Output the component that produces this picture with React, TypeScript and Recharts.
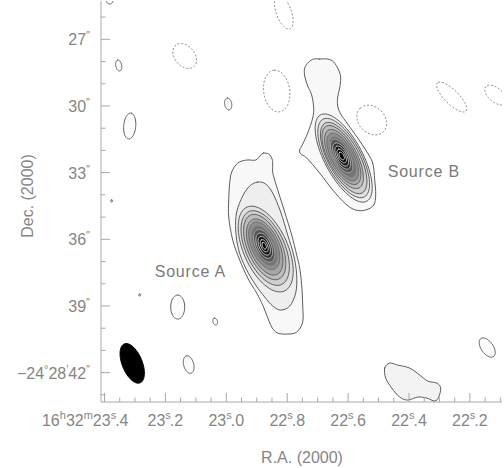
import { ScatterChart, Scatter, XAxis, YAxis } from 'recharts'

// R.A. in seconds after 16h32m, Dec. in arcsec after -24°28'
const RA_LABELS = [23.4, 23.2, 23.0, 22.8, 22.6, 22.4, 22.2]
const DEC_LABELS = [27, 30, 33, 36, 39, 42]

// hand traced irregular contours, [ra, dec]
const SOURCE_A_OUTER: [number, number][] = [
  [22.8772, 32.117], [22.8608, 32.162], [22.8509, 32.342], [22.8476, 32.567], [22.8476, 32.972],
  [22.8411, 33.332], [22.8279, 33.917], [22.8082, 34.772], [22.7852, 35.807], [22.7688, 36.707],
  [22.759, 37.293], [22.7524, 38.058], [22.7491, 38.958], [22.7491, 39.723], [22.7688, 40.173],
  [22.7984, 40.263], [22.8312, 40.218], [22.8509, 39.948], [22.8673, 39.408], [22.8805, 38.958],
  [22.9002, 38.418], [22.9297, 37.743], [22.956, 36.932], [22.979, 36.032], [22.9921, 34.997],
  [22.9921, 34.232], [22.9888, 33.467], [22.9823, 32.972], [22.9626, 32.567], [22.933, 32.432],
  [22.9035, 32.432], [22.887, 32.207],
]
const SOURCE_A_SECOND: [number, number][] = [
  [22.8969, 33.422], [22.8706, 33.512], [22.8476, 33.917], [22.8213, 34.772], [22.7984, 35.807],
  [22.7787, 36.707], [22.7688, 37.608], [22.7721, 38.418], [22.7918, 39.003], [22.8213, 39.183],
  [22.8476, 39.003], [22.8739, 38.598], [22.9035, 38.058], [22.9363, 37.293], [22.9593, 36.482],
  [22.9691, 35.582], [22.9659, 34.772], [22.9462, 34.052], [22.9232, 33.602],
]
const SOURCE_B_OUTER: [number, number][] = [
  [22.6933, 27.887], [22.667, 27.887], [22.6473, 28.022], [22.6309, 28.382], [22.6243, 28.742],
  [22.6276, 29.192], [22.6342, 29.597], [22.6342, 30.002], [22.6243, 30.362], [22.6013, 30.812],
  [22.5685, 31.442], [22.5422, 31.982], [22.5192, 32.567], [22.5126, 33.332], [22.5093, 34.007],
  [22.5159, 34.457], [22.5422, 34.682], [22.5751, 34.682], [22.6079, 34.412], [22.6506, 33.782],
  [22.6933, 33.017], [22.736, 32.342], [22.7557, 32.162], [22.759, 31.982], [22.7491, 31.712],
  [22.7327, 31.217], [22.7163, 30.542], [22.713, 30.092], [22.7196, 29.507], [22.7327, 29.102],
  [22.7425, 28.652], [22.7425, 28.292], [22.7294, 28.022], [22.713, 27.887],
]
const SE_BLOB: [number, number][] = [
  [22.4798, 41.793], [22.4634, 41.568], [22.4371, 41.658], [22.3977, 41.793], [22.3649, 42.108],
  [22.3386, 42.378], [22.309, 42.468], [22.2959, 42.693], [22.3025, 43.098], [22.3156, 43.278],
  [22.3419, 43.143], [22.3715, 43.098], [22.4043, 43.233], [22.4305, 43.098], [22.4568, 42.693],
  [22.4765, 42.243],
]

// nested elliptical contours: centre, semi-axes (arcsec)
const SOURCE_A_PA = 24
const SOURCE_A_RINGS = [
  { ra: 22.8706, dec: 36.438, a: 2.067, b: 0.989 },
  { ra: 22.8723, dec: 36.393, a: 1.798, b: 0.876 },
  { ra: 22.8739, dec: 36.348, a: 1.573, b: 0.764 },
  { ra: 22.8739, dec: 36.348, a: 1.348, b: 0.665 },
  { ra: 22.8755, dec: 36.29, a: 1.146, b: 0.566 },
  { ra: 22.8755, dec: 36.29, a: 0.966, b: 0.476 },
  { ra: 22.8755, dec: 36.29, a: 0.787, b: 0.387 },
  { ra: 22.8755, dec: 36.29, a: 0.607, b: 0.306 },
  { ra: 22.8755, dec: 36.29, a: 0.449, b: 0.225 },
  { ra: 22.8755, dec: 36.29, a: 0.292, b: 0.148 },
  { ra: 22.8755, dec: 36.29, a: 0.157, b: 0.081 },
]
const SOURCE_B_PA = 28
const SOURCE_B_RINGS = [
  { ra: 22.6145, dec: 32.342, a: 2.202, b: 0.854 },
  { ra: 22.6145, dec: 32.342, a: 1.978, b: 0.787 },
  { ra: 22.6145, dec: 32.342, a: 1.775, b: 0.71 },
  { ra: 22.6178, dec: 32.297, a: 1.573, b: 0.638 },
  { ra: 22.6178, dec: 32.297, a: 1.371, b: 0.566 },
  { ra: 22.6178, dec: 32.297, a: 1.191, b: 0.494 },
  { ra: 22.6178, dec: 32.297, a: 1.011, b: 0.427 },
  { ra: 22.6211, dec: 32.252, a: 0.831, b: 0.36 },
  { ra: 22.6211, dec: 32.252, a: 0.652, b: 0.292 },
  { ra: 22.6211, dec: 32.252, a: 0.494, b: 0.225 },
  { ra: 22.6211, dec: 32.252, a: 0.337, b: 0.157 },
  { ra: 22.6211, dec: 32.252, a: 0.189, b: 0.094 },
]

// small isolated contours
const POS_BLOBS = [
  { ra: 23.3534, dec: 28.179, a: 0.247, b: 0.135, pa: 10 },
  { ra: 22.9938, dec: 29.912, a: 0.27, b: 0.157, pa: 10 },
  { ra: 23.3172, dec: 30.902, a: 0.584, b: 0.27, pa: -5 },
  { ra: 23.1596, dec: 39.048, a: 0.539, b: 0.315, pa: 0 },
  { ra: 23.0365, dec: 39.7, a: 0.157, b: 0.103, pa: 15 },
  { ra: 23.1235, dec: 41.636, a: 0.404, b: 0.225, pa: 15 },
  { ra: 22.1432, dec: 40.871, a: 0.494, b: 0.27, pa: 35 },
  { ra: 23.3829, dec: 25.231, a: 0.18, b: 0.157, pa: 0 },
  { ra: 23.3764, dec: 34.277, a: 0.05, b: 0.04, pa: 0 },
  { ra: 23.2844, dec: 38.508, a: 0.05, b: 0.04, pa: 0 },
]
const NEG_BLOBS = [
  { ra: 22.8115, dec: 25.771, a: 0.809, b: 0.337, pa: 20 },
  { ra: 23.1366, dec: 27.752, a: 0.629, b: 0.449, pa: 40 },
  { ra: 22.8345, dec: 29.327, a: 0.944, b: 0.584, pa: 8 },
  { ra: 22.5225, dec: 30.632, a: 0.742, b: 0.584, pa: 45 },
  { ra: 22.2598, dec: 29.597, a: 0.899, b: 0.315, pa: 45 },
  { ra: 22.1153, dec: 29.507, a: 0.584, b: 0.315, pa: 50 },
]
const BEAM = { ra: 23.309, dec: 41.582, a: 0.944, b: 0.449, pa: 22 }

const SOURCE_LABELS = [
  { ra: 23.2351, dec: 37.698, text: 'Source A' },
  { ra: 22.47, dec: 33.197, text: 'Source B' },
]

const FONT = '"Liberation Sans", Arial, Helvetica, sans-serif'
const TEXT = '#858585'
const AXIS = '#a8a8a8'
const LEVEL_FILL = ['#f8f8f8', '#eeeeee', '#e0e0e0', '#cfcfcf', '#bcbcbc', '#a6a6a6', '#8e8e8e', '#747474', '#565656', '#343434', '#151515', '#000000', '#000000']
const LEVEL_STROKE = ['#5c5c5c', '#5c5c5c', '#5c5c5c', '#5c5c5c', '#5e5e5e', '#646464', '#6e6e6e', '#8a8a8a', '#a4a4a4', '#b8b8b8', '#d0d0d0', '#e6e6e6', '#f4f4f4']

const COS_DEC = Math.cos((24.475 * Math.PI) / 180)
const RA_TICKS: number[] = []
for (let i = 0; i <= 26; i++) RA_TICKS.push(+(23.4 - i * 0.05).toFixed(2))
const DEC_TICKS: number[] = []
for (let d = 26; d <= 43; d++) DEC_TICKS.push(d)

type Ell = { ra: number; dec: number; a: number; b: number; pa: number }

// outline of an elliptical contour, in ra/dec
function ellipsePts(e: Ell) {
  const pa = (e.pa * Math.PI) / 180
  const pts = []
  for (let i = 0; i < 72; i++) {
    const t = (i / 72) * 2 * Math.PI
    const u = e.a * Math.cos(t)
    const v = e.b * Math.sin(t)
    const north = u * Math.cos(pa) - v * Math.sin(pa)
    const east = u * Math.sin(pa) + v * Math.cos(pa)
    pts.push({ ra: e.ra + east / (15 * COS_DEC), dec: e.dec - north })
  }
  return pts
}

const toPts = (arr: [number, number][]) => arr.map(([ra, dec]) => ({ ra, dec }))

function closedPath(pts: { x: number; y: number }[], smooth?: boolean) {
  if (!pts || !pts.length) return ''
  const n = pts.length
  if (!smooth) return 'M' + pts.map((p) => `${p.x},${p.y}`).join('L') + 'Z'
  let d = `M${pts[0].x},${pts[0].y}`
  for (let i = 0; i < n; i++) {
    const p0 = pts[(i - 1 + n) % n]
    const p1 = pts[i]
    const p2 = pts[(i + 1) % n]
    const p3 = pts[(i + 2) % n]
    d += `C${p1.x + (p2.x - p0.x) / 6},${p1.y + (p2.y - p0.y) / 6} ${p2.x - (p3.x - p1.x) / 6},${p2.y - (p3.y - p1.y) / 6} ${p2.x},${p2.y}`
  }
  return d + 'Z'
}

type Contour = { key: string; pts: { ra: number; dec: number }[]; fill: string; stroke: string; dash?: string; smooth?: boolean }

const contours: Contour[] = [
  ...NEG_BLOBS.map((e, i) => ({ key: `neg${i}`, pts: ellipsePts(e), fill: 'none', stroke: '#8a8a8a', dash: '1.2 2.6' })),
  ...POS_BLOBS.map((e, i) => ({ key: `pos${i}`, pts: ellipsePts(e), fill: '#fcfcfc', stroke: LEVEL_STROKE[0] })),
  { key: 'blob', pts: toPts(SE_BLOB), fill: '#f3f3f3', stroke: LEVEL_STROKE[0], smooth: true },
  { key: 'aOuter', pts: toPts(SOURCE_A_OUTER), fill: LEVEL_FILL[0], stroke: LEVEL_STROKE[0], smooth: true },
  { key: 'aSecond', pts: toPts(SOURCE_A_SECOND), fill: LEVEL_FILL[1], stroke: LEVEL_STROKE[1], smooth: true },
  ...SOURCE_A_RINGS.map((r, i) => ({ key: `a${i}`, pts: ellipsePts({ ...r, pa: SOURCE_A_PA }), fill: LEVEL_FILL[i + 2], stroke: LEVEL_STROKE[i + 2] })),
  { key: 'bOuter', pts: toPts(SOURCE_B_OUTER), fill: LEVEL_FILL[0], stroke: LEVEL_STROKE[0], smooth: true },
  ...SOURCE_B_RINGS.map((r, i) => ({ key: `b${i}`, pts: ellipsePts({ ...r, pa: SOURCE_B_PA }), fill: LEVEL_FILL[i + 1], stroke: LEVEL_STROKE[i + 1] })),
  { key: 'beam', pts: ellipsePts(BEAM), fill: '#000', stroke: '#000' },
]

const isRaLabel = (v: number) => RA_LABELS.some((m) => Math.abs(m - v) < 1e-6)

function RaLabel({ x, y, v }: { x: number; y: number; v: number }) {
  const [s, frac] = v.toFixed(1).split('.')
  const sup = { fontSize: 11 }
  if (Math.abs(v - RA_LABELS[0]) < 1e-6) {
    return (
      <text x={x + 24} y={y} textAnchor="end" fill={TEXT} fontSize={16} fontFamily={FONT}>
        <tspan>16</tspan>
        <tspan dy={-7} {...sup}>h</tspan>
        <tspan dy={7}>32</tspan>
        <tspan dy={-7} {...sup}>m</tspan>
        <tspan dy={7}>{s}</tspan>
        <tspan dy={-7} {...sup}>s</tspan>
        <tspan dy={7} dx={-1}>.{frac}</tspan>
      </text>
    )
  }
  return (
    <text x={x} y={y} textAnchor="middle" fill={TEXT} fontSize={16} fontFamily={FONT}>
      <tspan>{s}</tspan>
      <tspan dy={-7} {...sup}>s</tspan>
      <tspan dy={7} dx={-1}>.{frac}</tspan>
    </text>
  )
}

function BottomTick(props: any) {
  const { x, y, payload } = props
  const major = isRaLabel(payload.value)
  return (
    <g>
      <line x1={x} x2={x} y1={y} y2={y - (major ? 9 : 4.5)} stroke={AXIS} />
      {major && <RaLabel x={x} y={y + 24} v={payload.value} />}
    </g>
  )
}

function TopTick(props: any) {
  const { x, y, payload } = props
  const major = isRaLabel(payload.value)
  return <line x1={x} x2={x} y1={y} y2={y + (major ? 9 : 4.5)} stroke={AXIS} />
}

function LeftTick(props: any) {
  const { x, y, payload } = props
  const v = payload.value
  const major = DEC_LABELS.includes(v)
  const sup = { fontSize: 11 }
  return (
    <g>
      <line x1={x} x2={x + (major ? 9 : 4.5)} y1={y} y2={y} stroke={AXIS} />
      {major && (
        <text x={x - 11} y={y + 6} textAnchor="end" fill={TEXT} fontSize={16} fontFamily={FONT}>
          {v === 42 ? (
            <>
              <tspan>−24</tspan>
              <tspan dy={-6} {...sup}>°</tspan>
              <tspan dy={6}>28</tspan>
              <tspan dy={-6} {...sup}>′</tspan>
              <tspan dy={6}>42</tspan>
              <tspan dy={-6} {...sup}>″</tspan>
            </>
          ) : (
            <>
              <tspan>{v}</tspan>
              <tspan dy={-6} {...sup}>″</tspan>
            </>
          )}
        </text>
      )}
    </g>
  )
}

function RightTick(props: any) {
  const { x, y, payload } = props
  const major = DEC_LABELS.includes(payload.value)
  return <line x1={x} x2={x - (major ? 9 : 4.5)} y1={y} y2={y} stroke={AXIS} />
}

const noShape = () => <g />

const SourceText = (p: any) => (
  <text x={p.cx} y={p.cy} fill="#7a7a7a" fontSize={16} fontFamily={FONT} letterSpacing={0.8}>
    {p.payload.text}
  </text>
)

export default function App() {
  const raDomain: [number, number] = [22.0946, 23.4115]
  const decDomain: [number, number] = [25.276, 43.32]
  return (
    <div style={{ position: 'relative', width: 504, height: 468, background: '#fff' }}>
      <style>{'body{margin:0}'}</style>
      <ScatterChart width={504} height={468} margin={{ top: 1, right: 2, bottom: 0, left: 0 }}>
        <XAxis
          dataKey="ra"
          type="number"
          domain={raDomain}
          reversed
          allowDataOverflow
          ticks={RA_TICKS}
          interval={0}
          tickSize={0}
          tickMargin={0}
          tickLine={false}
          height={66}
          axisLine={{ stroke: AXIS }}
          tick={<BottomTick />}
        />
        <XAxis
          xAxisId="top"
          orientation="top"
          type="number"
          domain={raDomain}
          reversed
          allowDataOverflow
          ticks={RA_TICKS}
          interval={0}
          tickSize={0}
          tickMargin={0}
          tickLine={false}
          height={0}
          axisLine={{ stroke: AXIS }}
          tick={<TopTick />}
        />
        <YAxis
          dataKey="dec"
          type="number"
          domain={decDomain}
          reversed
          allowDataOverflow
          ticks={DEC_TICKS}
          interval={0}
          tickSize={0}
          tickMargin={0}
          tickLine={false}
          width={101}
          axisLine={{ stroke: AXIS }}
          tick={<LeftTick />}
        />
        <YAxis
          yAxisId="right"
          orientation="right"
          type="number"
          domain={decDomain}
          reversed
          allowDataOverflow
          ticks={DEC_TICKS}
          interval={0}
          tickSize={0}
          tickMargin={0}
          tickLine={false}
          width={0}
          axisLine={{ stroke: AXIS }}
          tick={<RightTick />}
        />
        {contours.map((c) => (
          <Scatter
            key={c.key}
            data={c.pts}
            isAnimationActive={false}
            shape={noShape}
            line={(p: any) => (
              <path
                d={closedPath(p.points, c.smooth)}
                fill={c.fill}
                stroke={c.stroke}
                strokeWidth={1}
                strokeDasharray={c.dash}
                strokeLinecap="round"
              />
            )}
          />
        ))}
        <Scatter data={SOURCE_LABELS} isAnimationActive={false} shape={SourceText} />
      </ScatterChart>
      <svg width={504} height={468} style={{ position: 'absolute', left: 0, top: 0, pointerEvents: 'none' }}>
        <text x={302} y={463} textAnchor="middle" fill={TEXT} fontSize={16} fontFamily={FONT}>
          R.A. (2000)
        </text>
        <text x={27} y={196} transform="rotate(-90 27 196)" textAnchor="middle" dominantBaseline="central" fill={TEXT} fontSize={16} fontFamily={FONT}>
          Dec. (2000)
        </text>
      </svg>
    </div>
  )
}
